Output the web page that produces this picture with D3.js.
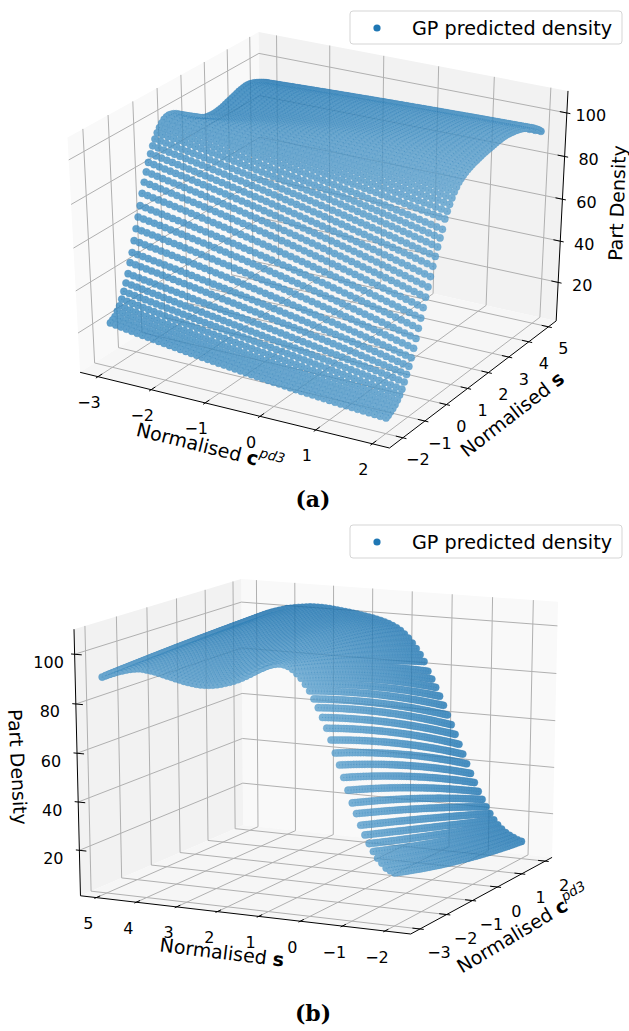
<!DOCTYPE html>
<html><head><meta charset="utf-8">
<script src="https://d3js.org/d3.v7.min.js"></script>
<style>html,body{margin:0;padding:0;background:#fff}svg{display:block}</style>
</head><body><svg id="c" width="629" height="1031"></svg>
<script>
// Sampling lattice of the predicted surface
const cValues = d3.range(-30, 21).map(d => d / 10);
const sValues = d3.range(-20, 51).map(d => d / 10);
// Density along s at three c positions (c = -3, -0.5, 2).
const densityLowC = [22.5,23.2,24.1,25.9,27.7,30.2,33.2,36.5,40.2,44.7,48.8,53.7,58.6,63.4,68,73,77.5,81.6,85.3,88.6,91.6,94.1,96.3,98,99.5,
 100.5,101,101.2,101,100.6,100,99.2,98.3,97.3,96.3,95.3,94.4,93.6,92.9,92.3,91.8,91.3,90.9,90.6,90.4,90.3,90.3,90.4,90.6,90.8,91.1,91.5,91.9,92.3,92.7,93.1,93.5,93.9,94.2,94.4,94.6,94.6,94.4,94.1,93.7,93.2,92.7,92.1,91.5,90.8,90];
const densityMidC = [14,14.6,15.6,17,18.6,20.8,23.5,26.5,30,34,38,42.3,46.8,51.2,55.6,60,64.3,68.3,72.2,75.8,79.3,82.5,85.5,88,90.4,
 92.4,94,95.4,96.6,97.6,98.4,99,99.6,100,100.3,100.5,100.6,100.6,100.5,100.3,100,99.7,99.4,99.1,98.8,98.5,98.2,98,97.8,97.7,97.6,97.6,97.6,97.6,97.6,97.6,97.6,97.6,97.5,97.4,97.3,97.1,96.8,96.5,96.1,95.6,95,94.4,93.6,92.7,91.7];
const densityHighC = [8.5,9,9.8,10.6,11.6,13,14.6,16.6,19.2,22,25,28.3,32,35.8,39.8,43.8,47.9,52,56,60,64,67.8,71.4,74.8,78,
 82,84.8,87.2,89.4,91.4,93,94.4,95.4,96.2,96.9,97.5,98,98.4,98.8,99.1,99.4,99.7,100,100.2,100.4,100.6,100.8,101,101.2,101.4,101.5,101.6,101.6,101.6,101.5,101.3,101.1,100.9,100.6,100.3,100,99.5,99,98.5,97.9,97.3,96.5,95.6,94.7,93.7,92.6];
const cTicks = [-3,-2,-1,0,1,2];
const sTicks = [-2,-1,0,1,2,3,4,5];
const zTicks = [20,40,60,80,100];
const cLim = [-3.34, 2.30], sLim = [-2.6, 5.4], zLim = [1, 110];
const legendText = "GP predicted density";
const captions = ["(a)", "(b)"];

const fmt = v => (v < 0 ? "\u2212" + (-v) : "" + v);
const svg = d3.select("#c");
const FONT = "'DejaVu Sans'";

const surface = [];
sValues.forEach((s, i) => cValues.forEach(c => {
  const u = (c - cValues[0]) / (cValues[cValues.length - 1] - cValues[0]);
  const z = densityLowC[i] * (1 - u) * (1 - 2 * u) + densityMidC[i] * 4 * u * (1 - u) + densityHighC[i] * u * (2 * u - 1);
  surface.push({c, s, z});
}));

function camera(elev, azim, dist) {
  const e = elev * Math.PI / 180, a = azim * Math.PI / 180;
  const n = [Math.cos(e) * Math.cos(a), Math.cos(e) * Math.sin(a), Math.sin(e)];
  const R = [.5, .5, .5], E = R.map((r, i) => r + dist * n[i]);
  const cross = (p, q) => [p[1]*q[2]-p[2]*q[1], p[2]*q[0]-p[0]*q[2], p[0]*q[1]-p[1]*q[0]];
  const unit = p => { const l = Math.hypot(...p); return p.map(v => v / l); };
  const U = unit(cross([0,0,1], n)), V = cross(n, U);
  const dot = (p, q) => p[0]*q[0]+p[1]*q[1]+p[2]*q[2];
  return p => {
    const d = p.map((v, i) => v - E[i]);
    const w = -dot(n, d);
    return {x: dot(U, d) / w, y: dot(V, d) / w, w};
  };
}

function panel(cfg) {
  const g = svg.append("g");
  const cS = d3.scaleLinear().domain(cLim).range([0,1]);
  const sS = d3.scaleLinear().domain(sLim).range([0,1]);
  const zS = d3.scaleLinear().domain(zLim).range([0,1]);
  const cam = camera(cfg.elev, cfg.azim, 10);
  const raw = (c,s,z) => cam([cS(c), sS(s), zS(z)]);
  const a = cfg.anchors;
  const X = d3.scaleLinear().domain([raw(...a.left[0]).x, raw(...a.right[0]).x]).range([a.left[1], a.right[1]]);
  const Y = d3.scaleLinear().domain([raw(...a.bottom[0]).y, raw(...a.top[0]).y]).range([a.bottom[1], a.top[1]]);
  const P = (c,s,z) => { const r = raw(c,s,z); return [X(r.x), Y(r.y)]; };
  const [c0,c1] = cLim, [s0,s1] = sLim, [z0,z1] = zLim;
  const cB = cfg.cBack, sB = cfg.sBack;
  const cF = cB === c1 ? c0 : c1, sF = sB === s1 ? s0 : s1;
  const poly = (pts, fill) => g.append("polygon").attr("points", pts.map(p => P(...p).join(",")).join(" ")).attr("fill", fill);
  poly([[cB,s0,z0],[cB,s1,z0],[cB,s1,z1],[cB,s0,z1]], cfg.paneC);
  poly([[c0,sB,z0],[c1,sB,z0],[c1,sB,z1],[c0,sB,z1]], cfg.paneS);
  poly([[c0,s0,z0],[c1,s0,z0],[c1,s1,z0],[c0,s1,z0]], "#f6f6f6");
  const line = d3.line();
  const path = (pts, col, w) => g.append("path").attr("d", line(pts.map(p => P(...p)))).attr("fill","none").attr("stroke",col).attr("stroke-width",w);
  const GRID = "#b0b0b0";
  cTicks.forEach(t => path([[t,sF,z0],[t,sB,z0],[t,sB,z1]], GRID, 1));
  sTicks.forEach(t => path([[cF,t,z0],[cB,t,z0],[cB,t,z1]], GRID, 1));
  zTicks.forEach(t => path([[cF,sB,t],[cB,sB,t],[cB,sF,t]], GRID, 1));

  const tickLen = .011;
  const cAxisS = cfg.cAxisS, sAxisC = cfg.sAxisC, zc = cfg.zAxis[0], zs = cfg.zAxis[1];
  path([[c0,cAxisS,z0],[c1,cAxisS,z0]], "#000", 1);
  path([[sAxisC,s0,z0],[sAxisC,s1,z0]], "#000", 1);
  path([[zc,zs,z0],[zc,zs,z1]], "#000", 1);
  const sSpan = s1 - s0, cSpan = c1 - c0;
  const sDir = cAxisS === s0 ? 1 : -1, cDir = sAxisC === c1 ? -1 : 1;
  const text = (xy, str, size) => g.append("text").attr("x", xy[0]).attr("y", xy[1]).attr("text-anchor","middle")
      .attr("dominant-baseline","central").attr("font-family", FONT).attr("font-size", size).attr("fill","#000").text(str);
  cTicks.forEach(t => {
    path([[t,cAxisS - sDir*tickLen*sSpan,z0],[t,cAxisS + sDir*tickLen*2*sSpan,z0]], "#000", 1);
    const p = P(t,cAxisS,z0); text([p[0]+cfg.cLab[0], p[1]+cfg.cLab[1]], fmt(t), cfg.tickSize);
  });
  sTicks.forEach(t => {
    path([[sAxisC - cDir*tickLen*cSpan,t,z0],[sAxisC + cDir*tickLen*2*cSpan,t,z0]], "#000", 1);
    const p = P(sAxisC,t,z0); text([p[0]+cfg.sLab[0], p[1]+cfg.sLab[1]], fmt(t), cfg.tickSize);
  });
  zTicks.forEach(t => {
    const dc = zc === c1 ? 1 : -1, ds = zs === s1 ? 1 : -1;
    path([[zc+dc*tickLen*cSpan*cfg.zTick[0],zs+ds*tickLen*sSpan*cfg.zTick[1],t],[zc-dc*tickLen*2*cSpan*cfg.zTick[0],zs-ds*tickLen*2*sSpan*cfg.zTick[1],t]], "#000", 1);
    const p = P(zc,zs,t); text([p[0]+cfg.zLab[0], p[1]+cfg.zLab[1]], fmt(t), cfg.tickSize);
  });

  // Scatter, far points first, shaded by depth
  const pts = surface.map(d => { const r = raw(d.c,d.s,d.z); return {x:X(r.x), y:Y(r.y), w:r.w}; });
  pts.sort((a,b) => b.w - a.w);
  const shade = d3.scaleLinear().domain(d3.extent(pts, d => d.w)).range(cfg.shade).interpolate(d3.interpolateRgb);
  const rim = d3.scaleLinear().domain(d3.extent(pts, d => d.w)).range(cfg.rim).interpolate(d3.interpolateRgb);
  g.append("g").attr("opacity", .8).selectAll("circle").data(pts).join("circle")
    .attr("cx", d => d.x).attr("cy", d => d.y).attr("r", 3.6)
    .attr("fill", d => shade(d.w)).attr("stroke", d => rim(d.w)).attr("stroke-width", .4);
  g.append("g").selectAll("circle").data(pts).join("circle")
    .attr("cx", d => d.x).attr("cy", d => d.y).attr("r", .6)
    .attr("fill", "#1f77b4").attr("fill-opacity", .35);

  const title = (t, parts) => {
    const el = g.append("text").attr("transform", `translate(${t[0]},${t[1]}) rotate(${t[2]})`).attr("text-anchor","middle")
      .attr("dominant-baseline","central").attr("font-family", FONT).attr("font-size", 19);
    parts.forEach(q => {
      const ts = el.append("tspan").text(q.t);
      if (q.b) ts.attr("font-weight","bold");
      if (q.i) ts.attr("font-style","italic").attr("font-size",13.5).attr("dy",-7);
    });
  };
  const cT = [{t:"Normalised "},{t:"c",b:1},{t:"pd3",i:1}];
  const sT = [{t:"Normalised "},{t:"s",b:1}];
  title(cfg.cTitle, cT); title(cfg.sTitle, sT); title(cfg.zTitle, [{t:"Part Density"}]);

  const L = cfg.legendY;
  g.append("rect").attr("x",350).attr("y",L).attr("width",272).attr("height",33).attr("rx",3)
    .attr("fill","#fff").attr("fill-opacity",.9).attr("stroke","#d5d5d5").attr("stroke-width",1);
  g.append("circle").attr("cx",377).attr("cy",L+17).attr("r",3.6).attr("fill","#1f77b4");
  g.append("text").attr("x",412).attr("y",L+17).attr("dominant-baseline","central").attr("font-family",FONT).attr("font-size",19.2).text(legendText);

  g.append("text").attr("x",313).attr("y",cfg.capY).attr("text-anchor","middle").attr("dominant-baseline","central")
    .attr("font-family","'DejaVu Serif'").attr("font-weight","bold").attr("font-size",22).text(cfg.caption);
}

panel({
  elev:30, azim:-60,
  anchors:{ left:[[cLim[0],sLim[0],zLim[1]],67.5], right:[[cLim[1],sLim[1],zLim[1]],568],
            bottom:[[cLim[1],sLim[0],zLim[0]],448], top:[[cLim[0],sLim[1],zLim[1]],32] },
  cBack:cLim[0], sBack:sLim[1], paneC:"#f9f9f9", paneS:"#f2f2f2",
  cAxisS:sLim[0], sAxisC:cLim[1], zAxis:[cLim[1],sLim[1]], zTick:[1,0],
  cLab:[-9,26], sLab:[15,22], zLab:[24,3], tickSize:16,
  shade:["#5ba0cd","#1c78b6"], rim:["#3f8fc4","#0f65a5"],
  cTitle:[210,447,14], sTitle:[512,414,-38], zTitle:[617,203,-88],
  legendY:11, capY:499, caption:captions[0]
});
panel({
  elev:15, azim:-154.5,
  anchors:{ left:[[cLim[0],sLim[1],zLim[1]],74], right:[[cLim[1],sLim[0],zLim[1]],558],
            bottom:[[cLim[0],sLim[0],zLim[0]],934], top:[[cLim[1],sLim[1],zLim[1]],579] },
  cBack:cLim[1], sBack:sLim[1], paneC:"#f9f9f9", paneS:"#f2f2f2",
  cAxisS:sLim[0], sAxisC:cLim[0], zAxis:[cLim[0],sLim[1]], zTick:[0,1],
  cLab:[19,24], sLab:[-8,26], zLab:[-26,8], tickSize:16,
  shade:["#5ba0cd","#1470b0"], rim:["#3f8fc4","#0a5f9f"],
  cTitle:[523,929,-31], sTitle:[222,952,7], zTitle:[18,767,87],
  legendY:525, capY:1013, caption:captions[1]
});
</script></body></html>
